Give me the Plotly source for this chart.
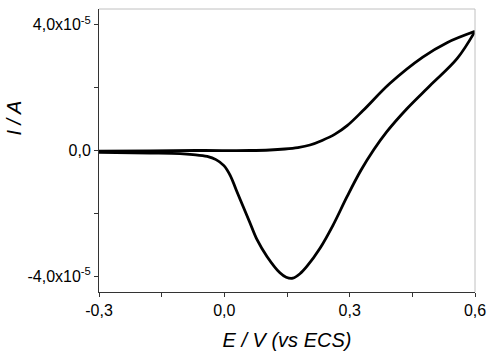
import plotly.graph_objects as go

# Forward (anodic) sweep, current in units of 1e-5 A
E_forward = [-0.300, -0.178, -0.058, 0.061, 0.109, 0.145, 0.176, 0.205, 0.234, 0.265, 0.294,
             0.332, 0.396, 0.475, 0.533, 0.600]
I_forward = [-0.02, -0.01, 0.00, 0.00, 0.016, 0.048, 0.095, 0.175, 0.32, 0.52, 0.79,
             1.27, 2.13, 2.97, 3.43, 3.79]

# Reverse (cathodic) sweep, current in units of 1e-5 A
E_reverse = [0.600, 0.557, 0.492, 0.437, 0.389, 0.358, 0.327, 0.294, 0.260, 0.229, 0.198, 0.181,
             0.164, 0.148, 0.133, 0.102, 0.078, 0.061, 0.045, 0.028, 0.014, -0.001, -0.020,
             -0.041, -0.075, -0.106, -0.178, -0.300]
I_reverse = [3.79, 2.92, 2.06, 1.33, 0.60, 0.03, -0.63, -1.46, -2.38, -3.11, -3.68, -3.92,
             -4.06, -4.03, -3.89, -3.37, -2.83, -2.29, -1.78, -1.24, -0.79, -0.48, -0.29,
             -0.19, -0.13, -0.10, -0.08, -0.06]
scale = 1e-5

x_tickvals = [-0.3, 0.0, 0.3, 0.6]
x_ticktext = ["-0,3", "0,0", "0,3", "0,6"]
y_tickvals = [-4e-5, 0.0, 4e-5]
y_ticktext = ["-4,0x10<sup>-5</sup>", "0,0", "4,0x10<sup>-5</sup>"]

FONT = "Arial, 'Liberation Sans', sans-serif"

fig = go.Figure()
fig.add_trace(go.Scatter(x=E_forward, y=[v * scale for v in I_forward], mode="lines",
                         line=dict(color="black", width=2.8, shape="spline", smoothing=1.0),
                         showlegend=False))
fig.add_trace(go.Scatter(x=E_reverse, y=[v * scale for v in I_reverse], mode="lines",
                         line=dict(color="black", width=2.8, shape="spline", smoothing=1.0),
                         showlegend=False))

fig.update_layout(
    width=500, height=357,
    margin=dict(l=99, r=25, t=9, b=65),
    paper_bgcolor="white", plot_bgcolor="white",
    font=dict(family=FONT, color="black"),
    xaxis=dict(range=[-0.3, 0.6], tickmode="array", tickvals=x_tickvals, ticktext=x_ticktext,
               ticks="outside", ticklen=4, tickcolor="#333", showgrid=False, zeroline=False,
               showline=True, linecolor="#333", linewidth=1, automargin=False,
               tickfont=dict(size=16, family=FONT),
               minor=dict(ticks="outside", ticklen=4, tick0=0, dtick=0.15, tickcolor="#333", showgrid=False),
               title=dict(text="<i>E / V (vs ECS)</i>", font=dict(size=20, family=FONT), standoff=14)),
    yaxis=dict(range=[-4.5e-5, 4.5e-5], tickmode="array", tickvals=y_tickvals, ticktext=y_ticktext,
               ticks="outside", ticklen=4, tickcolor="#333", showgrid=False, zeroline=False,
               showline=True, linecolor="#333", linewidth=1, automargin=False,
               tickfont=dict(size=16, family=FONT),
               minor=dict(ticks="outside", ticklen=4, tick0=0, dtick=2e-5, tickcolor="#333", showgrid=False)),
    shapes=[
        dict(type="line", xref="paper", yref="paper", x0=0, x1=1, y0=1, y1=1,
             line=dict(color="#c0c0c0", width=1)),
        dict(type="line", xref="paper", yref="paper", x0=1, x1=1, y0=0, y1=1,
             line=dict(color="#c0c0c0", width=1)),
    ],
    annotations=[
        dict(text="<i>I / A</i>", xref="paper", yref="paper", x=-0.227, y=0.615,
             textangle=-90, showarrow=False, font=dict(size=20, family=FONT),
             xanchor="center", yanchor="middle"),
    ],
)

fig.write_html("out.html", config={"displayModeBar": False},
               post_script="document.body.style.margin='0';document.body.style.overflow='hidden';")
